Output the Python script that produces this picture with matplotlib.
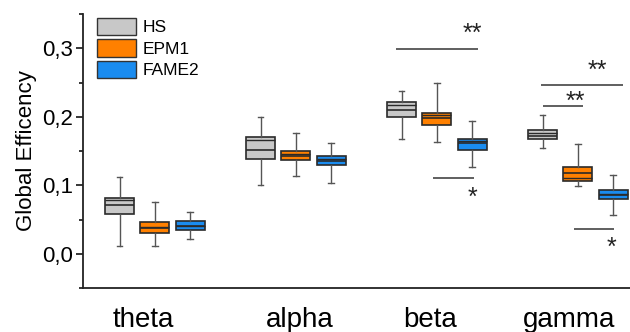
import matplotlib
matplotlib.use("Agg")
import matplotlib.pyplot as plt
from matplotlib.patches import Patch
from matplotlib.ticker import MultipleLocator, FuncFormatter

plt.rcParams['font.family'] = ['Liberation Sans', 'DejaVu Sans']

bands = ["theta", "alpha", "beta", "gamma"]
groups = ["HS", "EPM1", "FAME2"]
colors = ["#c8c8c8", "#ff8000", "#1a8cf0"]

# per band: [HS, EPM1, FAME2]
whislo = {"theta": [0.011, 0.011, 0.021], "alpha": [0.100, 0.114, 0.103],
          "beta": [0.168, 0.163, 0.127], "gamma": [0.155, 0.099, 0.056]}
q1 = {"theta": [0.058, 0.031, 0.035], "alpha": [0.138, 0.137, 0.129],
      "beta": [0.200, 0.188, 0.152], "gamma": [0.168, 0.106, 0.080]}
med = {"theta": [0.071, 0.038, 0.041], "alpha": [0.151, 0.142, 0.135],
       "beta": [0.210, 0.198, 0.161], "gamma": [0.172, 0.118, 0.086]}
mean = {"theta": [0.078, 0.039, 0.041], "alpha": [0.166, 0.145, 0.138],
        "beta": [0.217, 0.202, 0.165], "gamma": [0.176, 0.111, 0.087]}
q3 = {"theta": [0.082, 0.046, 0.048], "alpha": [0.170, 0.150, 0.142],
      "beta": [0.221, 0.206, 0.168], "gamma": [0.180, 0.126, 0.093]}
whishi = {"theta": [0.112, 0.075, 0.061], "alpha": [0.200, 0.176, 0.161],
          "beta": [0.238, 0.249, 0.194], "gamma": [0.202, 0.160, 0.115]}

# significance brackets
sig_x0 = [2.71, 2.97, 3.74, 3.75, 3.97]
sig_x1 = [3.29, 3.26, 4.32, 4.04, 4.26]
sig_y = [0.299, 0.110, 0.247, 0.215, 0.036]
sig_label = ["**", "*", "**", "**", "*"]
sig_tx = [3.25, 3.25, 4.14, 3.98, 4.24]
sig_ty = [0.326, 0.086, 0.272, 0.227, 0.013]

fig = plt.figure(figsize=(6.3, 3.32), dpi=100)
ax = fig.add_axes([83/630, 1-288/332, 1-83/630, (288-14)/332])

offset = 0.25
width = 0.205
edge = "#2a2a2a"
for bi, b in enumerate(bands):
    for gi, g in enumerate(groups):
        st = [dict(whislo=whislo[b][gi], q1=q1[b][gi], med=med[b][gi],
                   mean=mean[b][gi], q3=q3[b][gi], whishi=whishi[b][gi], fliers=[])]
        pos = bi + 1 + (gi - 1) * offset
        ax.bxp(st, positions=[pos], widths=width, patch_artist=True,
               showmeans=True, meanline=True, showfliers=False,
               capwidths=0.04, manage_ticks=False,
               boxprops=dict(facecolor=colors[gi], edgecolor=edge, linewidth=1.2),
               medianprops=dict(color=edge, linewidth=1.2),
               meanprops=dict(color=edge, linewidth=1.0, linestyle='-'),
               whiskerprops=dict(color="#555555", linewidth=1.0),
               capprops=dict(color="#555555", linewidth=1.0))

for x0, x1, y, lab, tx, ty in zip(sig_x0, sig_x1, sig_y, sig_label, sig_tx, sig_ty):
    ax.plot([x0, x1], [y, y], color="#444444", lw=1.2, solid_capstyle='butt')
    ax.text(tx, ty - 0.015, lab, ha='center', va='baseline', fontsize=18, color="#222222")

ax.set_xlim(0.49, 4.37)
ax.set_ylim(-0.05, 0.35)
label_shift = [-0.08, 0.03, -0.05, -0.06]
ax.set_xticks([i + 1 + s for i, s in enumerate(label_shift)])
ax.set_xticklabels(bands, fontsize=20)
ax.tick_params(axis='x', length=0, pad=14)
ax.yaxis.set_major_locator(MultipleLocator(0.1))
ax.yaxis.set_minor_locator(MultipleLocator(0.05))
ax.yaxis.set_major_formatter(FuncFormatter(lambda v, p: f"{v:.1f}".replace(".", ",")))
ax.tick_params(axis='y', which='major', length=5, width=1.1, labelsize=16, pad=2)
ax.tick_params(axis='y', which='minor', length=3, width=1.1)
for s in ['top', 'right']:
    ax.spines[s].set_visible(False)
for s in ['left', 'bottom']:
    ax.spines[s].set_linewidth(1.3)
    ax.spines[s].set_color("#222222")
ax.set_ylabel("Global Efficency", fontsize=16, labelpad=4)

handles = [Patch(facecolor=c, edgecolor="#333333", linewidth=1.0) for c in colors]
ax.legend(handles, groups, loc='upper left', bbox_to_anchor=(14/547, 1 - 4/274),
          frameon=False, fontsize=12.5, handlelength=2.25, handleheight=1.15,
          labelspacing=0.22, handletextpad=0.35, borderpad=0, borderaxespad=0)

fig.savefig("out.png", dpi=100)
